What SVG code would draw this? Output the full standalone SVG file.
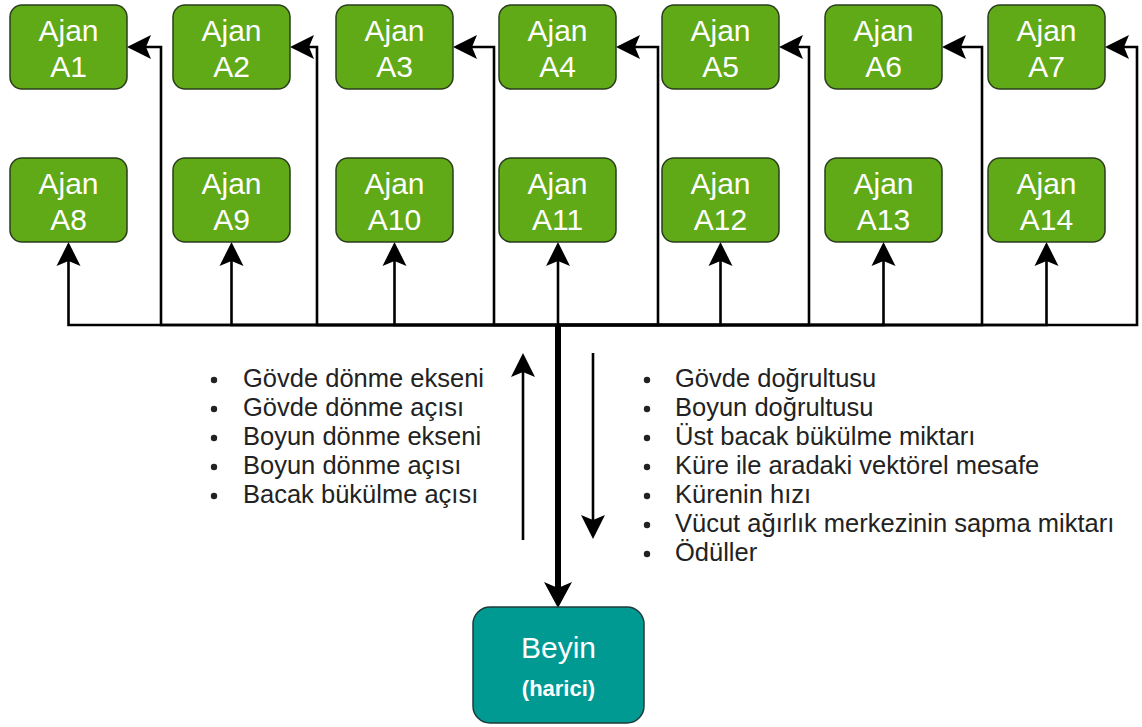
<svg xmlns="http://www.w3.org/2000/svg" width="1142" height="727" viewBox="0 0 1142 727">
  <style>
    .agent rect { fill: #60a917; stroke: #2b3d1c; stroke-width: 1.5; }
    .agent text { font-family: "Liberation Sans", Arial, sans-serif; font-size: 30px; fill: #ffffff; text-anchor: middle; }
    .conn path { fill: none; stroke: #000000; stroke-width: 2.6; stroke-linejoin: miter; }
    .conn path.thick { stroke-width: 6; }
    .list text { font-family: "Liberation Sans", Arial, sans-serif; font-size: 25.5px; fill: #222222; }
    .list circle { fill: #222222; }
    #brain rect { fill: #009a93; stroke: #1f3b3a; stroke-width: 1.5; }
    #brain text { font-family: "Liberation Sans", Arial, sans-serif; fill: #ffffff; text-anchor: middle; }
  </style>
  <defs>
    <marker id="arr" markerUnits="userSpaceOnUse" orient="auto" refX="5" refY="0" markerWidth="30" markerHeight="30" overflow="visible">
      <path d="M0,-12 L24,0 L0,12 L5,0 Z" fill="#000000"/>
    </marker>
    <marker id="arrT" markerUnits="userSpaceOnUse" orient="auto" refX="6" refY="0" markerWidth="30" markerHeight="30" overflow="visible">
      <path d="M0,-14 L26,0 L0,14 L6,0 Z" fill="#000000"/>
    </marker>
  </defs>

  <g id="connectors" class="conn">
    <path d="M558,325 H161 V47 H146" marker-end="url(#arr)"/>
    <path d="M558,325 H317 V47 H309" marker-end="url(#arr)"/>
    <path d="M558,325 H494 V47 H472" marker-end="url(#arr)"/>
    <path d="M558,325 H658 V47 H635" marker-end="url(#arr)"/>
    <path d="M558,325 H809 V47 H798" marker-end="url(#arr)"/>
    <path d="M558,325 H982 V47 H961" marker-end="url(#arr)"/>
    <path d="M558,325 H1137 V47 H1124" marker-end="url(#arr)"/>
    <path d="M558,325 H68.5 V261" marker-end="url(#arr)"/>
    <path d="M558,325 H231.5 V261" marker-end="url(#arr)"/>
    <path d="M558,325 H394.5 V261" marker-end="url(#arr)"/>
    <path d="M558,325 V261" marker-end="url(#arr)"/>
    <path d="M558,325 H720.5 V261" marker-end="url(#arr)"/>
    <path d="M558,325 H883.5 V261" marker-end="url(#arr)"/>
    <path d="M558,325 H1046.5 V261" marker-end="url(#arr)"/>
    <path class="thick" d="M558,325 V588" marker-end="url(#arrT)"/>
    <path d="M523,540 V372" marker-end="url(#arr)"/>
    <path d="M593,353 V520" marker-end="url(#arr)"/>
  </g>

  <g id="A1" class="agent"><rect x="10" y="5" width="117" height="84" rx="12"/><text x="68.5" y="40.5">Ajan</text><text x="68.5" y="77">A1</text></g>
  <g id="A2" class="agent"><rect x="173" y="5" width="117" height="84" rx="12"/><text x="231.5" y="40.5">Ajan</text><text x="231.5" y="77">A2</text></g>
  <g id="A3" class="agent"><rect x="336" y="5" width="117" height="84" rx="12"/><text x="394.5" y="40.5">Ajan</text><text x="394.5" y="77">A3</text></g>
  <g id="A4" class="agent"><rect x="499" y="5" width="117" height="84" rx="12"/><text x="557.5" y="40.5">Ajan</text><text x="557.5" y="77">A4</text></g>
  <g id="A5" class="agent"><rect x="662" y="5" width="117" height="84" rx="12"/><text x="720.5" y="40.5">Ajan</text><text x="720.5" y="77">A5</text></g>
  <g id="A6" class="agent"><rect x="825" y="5" width="117" height="84" rx="12"/><text x="883.5" y="40.5">Ajan</text><text x="883.5" y="77">A6</text></g>
  <g id="A7" class="agent"><rect x="988" y="5" width="117" height="84" rx="12"/><text x="1046.5" y="40.5">Ajan</text><text x="1046.5" y="77">A7</text></g>

  <g id="A8" class="agent"><rect x="10" y="158" width="117" height="84" rx="12"/><text x="68.5" y="193.5">Ajan</text><text x="68.5" y="230">A8</text></g>
  <g id="A9" class="agent"><rect x="173" y="158" width="117" height="84" rx="12"/><text x="231.5" y="193.5">Ajan</text><text x="231.5" y="230">A9</text></g>
  <g id="A10" class="agent"><rect x="336" y="158" width="117" height="84" rx="12"/><text x="394.5" y="193.5">Ajan</text><text x="394.5" y="230">A10</text></g>
  <g id="A11" class="agent"><rect x="499" y="158" width="117" height="84" rx="12"/><text x="557.5" y="193.5">Ajan</text><text x="557.5" y="230">A11</text></g>
  <g id="A12" class="agent"><rect x="662" y="158" width="117" height="84" rx="12"/><text x="720.5" y="193.5">Ajan</text><text x="720.5" y="230">A12</text></g>
  <g id="A13" class="agent"><rect x="825" y="158" width="117" height="84" rx="12"/><text x="883.5" y="193.5">Ajan</text><text x="883.5" y="230">A13</text></g>
  <g id="A14" class="agent"><rect x="988" y="158" width="117" height="84" rx="12"/><text x="1046.5" y="193.5">Ajan</text><text x="1046.5" y="230">A14</text></g>

  <g id="brain">
    <rect x="473" y="607" width="171" height="116" rx="17"/>
    <text x="558.5" y="658" font-size="30">Beyin</text>
    <text x="558.5" y="696" font-size="22" font-weight="bold">(harici)</text>
  </g>

  <g id="list-left" class="list">
    <circle cx="214" cy="380" r="3.2"/><text x="243" y="387">Gövde dönme ekseni</text>
    <circle cx="214" cy="409" r="3.2"/><text x="243" y="416">Gövde dönme açısı</text>
    <circle cx="214" cy="438" r="3.2"/><text x="243" y="445">Boyun dönme ekseni</text>
    <circle cx="214" cy="467" r="3.2"/><text x="243" y="474">Boyun dönme açısı</text>
    <circle cx="214" cy="496" r="3.2"/><text x="243" y="503">Bacak bükülme açısı</text>
  </g>

  <g id="list-right" class="list">
    <circle cx="647" cy="380" r="3.2"/><text x="675" y="387">Gövde doğrultusu</text>
    <circle cx="647" cy="409" r="3.2"/><text x="675" y="416">Boyun doğrultusu</text>
    <circle cx="647" cy="438" r="3.2"/><text x="675" y="445">Üst bacak bükülme miktarı</text>
    <circle cx="647" cy="467" r="3.2"/><text x="675" y="474">Küre ile aradaki vektörel mesafe</text>
    <circle cx="647" cy="496" r="3.2"/><text x="675" y="503">Kürenin hızı</text>
    <circle cx="647" cy="525" r="3.2"/><text x="675" y="532">Vücut ağırlık merkezinin sapma miktarı</text>
    <circle cx="647" cy="554" r="3.2"/><text x="675" y="561">Ödüller</text>
  </g>
</svg>
